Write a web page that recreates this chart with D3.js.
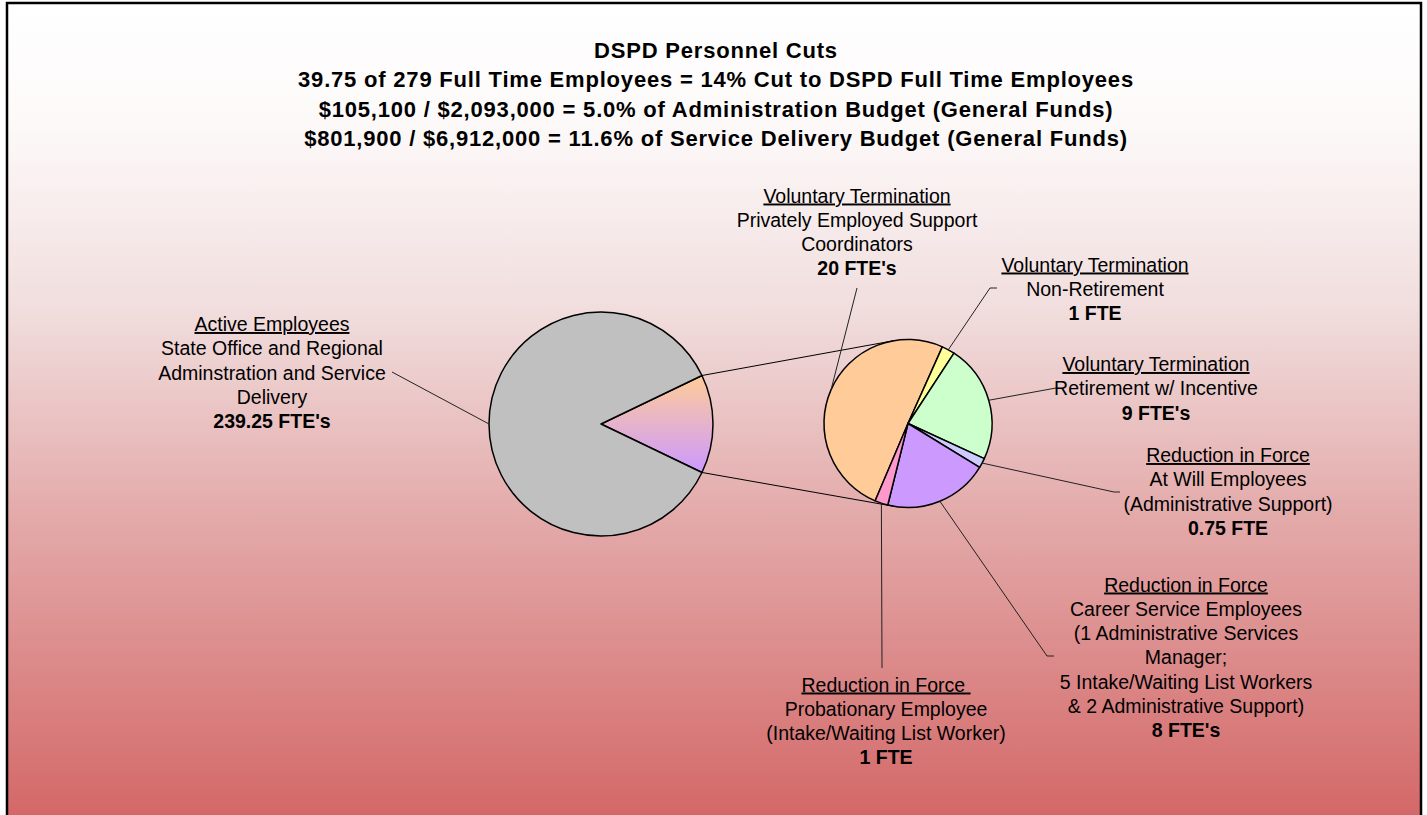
<!DOCTYPE html>
<html>
<head>
<meta charset="utf-8">
<script src="https://cdn.jsdelivr.net/npm/d3@7"></script>
<style>
  body { margin: 0; background: #fff; }
  text { font-family: "Liberation Sans", Arial, sans-serif; fill: #000; }
</style>
</head>
<body>
<script>
// chart values
const titleLines = [
  "DSPD Personnel Cuts",
  "39.75 of 279 Full Time Employees = 14% Cut to DSPD Full Time Employees",
  "$105,100 / $2,093,000 = 5.0% of Administration Budget (General Funds)",
  "$801,900 / $6,912,000 = 11.6% of Service Delivery Budget (General Funds)"
];

const activeHeading = "Active Employees";
const activeDetails = ["State Office and Regional", "Adminstration and Service", "Delivery"];
const activeValue = 239.25;
const activeValueLabel = "239.25 FTE's";

const cutHeadings = [
  "Voluntary Termination",
  "Voluntary Termination",
  "Voluntary Termination",
  "Reduction in Force",
  "Reduction in Force",
  "Reduction in Force "
];
const cutDetails = [
  ["Privately Employed Support", "Coordinators"],
  ["Non-Retirement"],
  ["Retirement w/ Incentive"],
  ["At Will Employees", "(Administrative Support)"],
  ["Career Service Employees", "(1 Administrative Services", "Manager;", "5 Intake/Waiting List Workers", "& 2 Administrative Support)"],
  ["Probationary Employee", "(Intake/Waiting List Worker)"]
];
const cutValues = [20, 1, 9, 0.75, 8, 1];
const cutValueLabels = ["20 FTE's", "1 FTE", "9 FTE's", "0.75 FTE", "8 FTE's", "1 FTE"];
const cutColors = ["#ffcc99", "#ffff99", "#ccffcc", "#ccccff", "#cc99ff", "#ff99cc"];

// layout
const W = 1427, H = 815;
const main = {cx: 601, cy: 424, r: 112};
const sub = {cx: 908, cy: 423.5, r: 84};
const subStart = 203 * Math.PI / 180;
const lineH = 24.3;
// label blocks: centre x, first baseline, leader start points
const activeLayout = {x: 272, y: 331, leader: [[392, 372]]};
const cutLayout = [
  {x: 857, y: 202.5, leader: [[857, 288]]},
  {x: 1095, y: 271.5, leader: [[997, 288], [990, 288]]},
  {x: 1156, y: 371, leader: [[1056, 388]]},
  {x: 1228, y: 462, leader: [[1120, 492], [1114, 492]]},
  {x: 1186, y: 591.5, leader: [[1054, 656], [1047, 656]]},
  {x: 886, y: 691.5, leader: [[882, 668]]}
];

const svg = d3.select("body").append("svg")
  .attr("width", W).attr("height", H);

const defs = svg.append("defs");
const bg = defs.append("linearGradient").attr("id", "bg")
  .attr("gradientUnits", "userSpaceOnUse")
  .attr("x1", 0).attr("y1", 3).attr("x2", 0).attr("y2", 815);
[[0, "#ffffff"], [0.15, "#fdf9f9"], [0.38, "#f1dddd"], [0.62, "#e4acac"], [0.85, "#da8383"], [1, "#d46868"]]
  .forEach(([o, c]) => bg.append("stop").attr("offset", o).attr("stop-color", c));

const og = defs.append("linearGradient").attr("id", "other")
  .attr("x1", 0).attr("y1", 0).attr("x2", 0).attr("y2", 1);
og.append("stop").attr("offset", 0).attr("stop-color", "#ffcc99");
og.append("stop").attr("offset", 1).attr("stop-color", "#cc99ff");

svg.append("rect")
  .attr("x", 7).attr("y", 3).attr("width", 1414).attr("height", 900)
  .attr("fill", "url(#bg)").attr("stroke", "#000").attr("stroke-width", 2.5);

// title
svg.append("g").selectAll("text")
  .data(titleLines)
  .join("text")
    .attr("x", 716)
    .attr("y", (d, i) => 58 + i * 29.4)
    .attr("text-anchor", "middle")
    .style("font-weight", "bold")
    .style("font-size", "22px")
    .style("letter-spacing", "0.8px")
    .text(d => d);

// main pie
const cutTotal = d3.sum(cutValues);
const otherAngle = 2 * Math.PI * cutTotal / (cutTotal + activeValue);
const mainArcs = d3.pie().sort(null)
  .startAngle(Math.PI / 2 - otherAngle / 2)
  .endAngle(Math.PI / 2 - otherAngle / 2 + 2 * Math.PI)([cutTotal, activeValue]);

const mainArc = d3.arc().innerRadius(0).outerRadius(main.r);
const gMain = svg.append("g").attr("transform", `translate(${main.cx},${main.cy})`);
gMain.selectAll("path")
  .data(mainArcs)
  .join("path")
    .attr("d", mainArc)
    .attr("fill", (d, i) => i === 0 ? "url(#other)" : "#c0c0c0")
    .attr("stroke", "#000")
    .attr("stroke-width", 1.5)
    .attr("stroke-linejoin", "round");

// secondary pie
const subArcs = d3.pie().sort(null)
  .startAngle(subStart).endAngle(subStart + 2 * Math.PI)(cutValues);
const subArc = d3.arc().innerRadius(0).outerRadius(sub.r);
const gSub = svg.append("g").attr("transform", `translate(${sub.cx},${sub.cy})`);
gSub.selectAll("path")
  .data(subArcs)
  .join("path")
    .attr("d", subArc)
    .attr("fill", (d, i) => cutColors[i])
    .attr("stroke", "#000")
    .attr("stroke-width", 1.5)
    .attr("stroke-linejoin", "round");

// point on a circle at a d3 pie angle (clockwise from 12 o'clock)
const polar = (c, a) => [c.cx + c.r * Math.sin(a), c.cy - c.r * Math.cos(a)];

// connector lines between pies
const o = mainArcs[0];
const conn = [
  [polar(main, o.startAngle), polar(sub, -10 * Math.PI / 180)],
  [polar(main, o.endAngle), polar(sub, 190 * Math.PI / 180)]
];
svg.append("g").selectAll("line")
  .data(conn)
  .join("line")
    .attr("x1", d => d[0][0]).attr("y1", d => d[0][1])
    .attr("x2", d => d[1][0]).attr("y2", d => d[1][1])
    .attr("stroke", "#000").attr("stroke-width", 1);

// leader lines
const line = d3.line();
const midA = d => (d.startAngle + d.endAngle) / 2;
const leaders = [activeLayout.leader.concat([polar(main, midA(mainArcs[1]))])]
  .concat(cutLayout.map((l, i) => l.leader.concat([polar(sub, midA(subArcs[i]))])));
svg.append("g").selectAll("path")
  .data(leaders)
  .join("path")
    .attr("d", d => line(d))
    .attr("fill", "none")
    .attr("stroke", "#222").attr("stroke-width", 1);

// labels
const blocks = [{heading: activeHeading, details: activeDetails, value: activeValueLabel, ...activeLayout}]
  .concat(cutHeadings.map((h, i) => ({heading: h, details: cutDetails[i], value: cutValueLabels[i], ...cutLayout[i]})));

const lbl = svg.append("g").selectAll("text")
  .data(blocks)
  .join("text")
    .attr("text-anchor", "middle")
    .style("font-size", "19.5px")
    .style("white-space", "pre");

lbl.each(function(b) {
  const t = d3.select(this);
  const rows = [{s: b.heading, u: true}]
    .concat(b.details.map(s => ({s})))
    .concat([{s: b.value, b: true}]);
  rows.forEach((r, k) => {
    t.append("tspan")
      .attr("x", b.x)
      .attr("y", b.y + k * lineH)
      .style("text-decoration", r.u ? "underline" : null)
      .style("font-weight", r.b ? "bold" : null)
      .text(r.s);
  });
});
</script>
</body>
</html>
